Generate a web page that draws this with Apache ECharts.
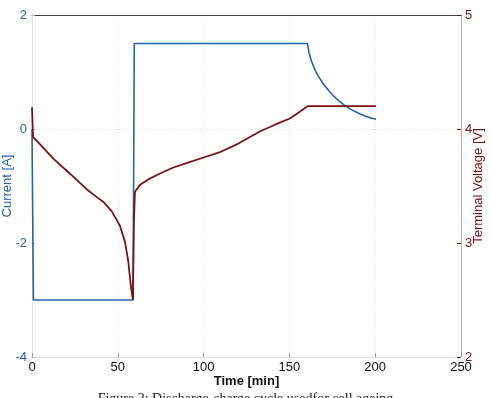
<!DOCTYPE html>
<html>
<head>
<meta charset="utf-8">
<script src="https://cdn.jsdelivr.net/npm/echarts@6/dist/echarts.min.js"></script>
<style>
  html, body { margin: 0; padding: 0; background: #fff; }
  #chart { width: 491px; height: 398px; }
</style>
</head>
<body>
<div id="chart"></div>
<script>
// time [min] and current [A]
const timeCurrent = [0, 0.8, 58.9, 59.6, 160.5, 161.5, 163, 165, 167, 170, 173, 176, 179, 182, 186, 190, 194, 198, 200.5]
const current = [0, -3, -3, 1.5, 1.5, 1.33, 1.18, 1.03, 0.92, 0.78, 0.67, 0.57, 0.49, 0.42, 0.34, 0.28, 0.23, 0.19, 0.17]

// time [min] and terminal voltage [V]
const timeVoltage = [0, 0.6, 5, 12.4, 22, 32, 38, 41.6, 46.4, 51.3, 54.2, 56.1, 57.5, 58.8, 59.4, 60, 63, 68, 74.6, 82, 90, 100, 110, 120, 127, 133, 139, 145, 150, 155, 160.5, 200.5]
const voltage = [4.19, 3.93, 3.86, 3.74, 3.61, 3.47, 3.4, 3.36, 3.28, 3.15, 3.01, 2.84, 2.64, 2.5, 3.2, 3.45, 3.51, 3.56, 3.61, 3.66, 3.7, 3.75, 3.8, 3.87, 3.93, 3.98, 4.02, 4.06, 4.09, 4.14, 4.2, 4.2]

const xTicks = [0, 50, 100, 150, 200, 250]
const currentTicks = [-4, -2, 0, 2]
const voltageTicks = [2, 3, 4, 5]

const caption = 'Figure 2: Discharge-charge cycle usedfor cell ageing'

const blue = '#2464ad'
const red = '#7a1212'
const font = 'Liberation Sans, Arial, sans-serif'

const zip = (xs, ys) => xs.map((x, i) => [x, ys[i]])

let myChart = echarts.init(document.getElementById('chart'))
myChart.setOption({
  animation: false,
  grid: { left: 32, right: 30, top: 15, bottom: 41, containLabel: false, outerBoundsMode: 'none' },
  xAxis: [
    {
      type: 'value',
      min: xTicks[0],
      max: xTicks[xTicks.length - 1],
      interval: 50,
      name: 'Time [min]',
      nameLocation: 'middle',
      nameGap: 18,
      nameMoveOverlap: false,
      nameTextStyle: { fontFamily: font, fontSize: 13, color: '#111', fontWeight: 'bold' },
      axisLine: { onZero: false, lineStyle: { color: '#e2e2e2' } },
      axisTick: { inside: true, length: 4, lineStyle: { color: '#999' } },
      axisLabel: { fontFamily: font, fontSize: 13, color: '#111', margin: 4 },
      splitLine: { show: true, lineStyle: { color: '#e4e4e4', type: [1, 2] } }
    },
    {
      type: 'value',
      position: 'top',
      min: 0,
      max: 250,
      axisLine: { show: true, onZero: false, lineStyle: { color: '#444' } },
      axisTick: { show: false },
      axisLabel: { show: false },
      splitLine: { show: false }
    }
  ],
  yAxis: [
    {
      type: 'value',
      min: currentTicks[0],
      max: currentTicks[currentTicks.length - 1],
      interval: 2,
      position: 'left',
      name: 'Current [A]',
      nameLocation: 'middle',
      nameGap: 18,
      nameMoveOverlap: false,
      nameTextStyle: { fontFamily: font, fontSize: 13, color: blue },
      axisLine: { show: true, onZero: false, lineStyle: { color: '#e2e2e2' } },
      axisTick: { show: true, inside: true, length: 3, lineStyle: { color: '#9bb3d6' } },
      axisLabel: { fontFamily: font, fontSize: 13, color: blue, margin: 5 },
      splitLine: { show: false }
    },
    {
      type: 'value',
      min: voltageTicks[0],
      max: voltageTicks[voltageTicks.length - 1],
      interval: 1,
      position: 'right',
      name: 'Terminal Voltage [V]',
      nameLocation: 'middle',
      nameGap: 11,
      nameMoveOverlap: false,
      nameTextStyle: { fontFamily: font, fontSize: 13, color: red },
      axisLine: { show: true, onZero: false, lineStyle: { color: '#c9a3a6' } },
      axisTick: { show: true, inside: true, length: 4, lineStyle: { color: red } },
      axisLabel: { fontFamily: font, fontSize: 13, color: red, margin: 4 },
      splitLine: { show: false }
    },
    {
      // only the zero line of the grid
      type: 'value',
      min: -4,
      max: 2,
      interval: 4,
      position: 'left',
      axisLine: { show: false, onZero: false },
      axisTick: { show: false },
      axisLabel: { show: false },
      splitLine: { show: true, lineStyle: { color: '#e4e4e4', type: [1, 2] } }
    }
  ],
  series: [
    {
      name: 'Current',
      type: 'line',
      yAxisIndex: 0,
      data: zip(timeCurrent, current),
      showSymbol: false,
      lineStyle: { color: blue, width: 1.6 },
      z: 3
    },
    {
      name: 'Voltage',
      type: 'line',
      yAxisIndex: 1,
      data: zip(timeVoltage, voltage),
      showSymbol: false,
      lineStyle: { color: red, width: 1.8 },
      z: 4
    }
  ],
  graphic: [
    {
      type: 'text',
      left: 'center',
      top: 392,
      style: { text: caption, font: '14px "Liberation Serif", serif', fill: '#222' }
    }
  ]
})
</script>
</body>
</html>
